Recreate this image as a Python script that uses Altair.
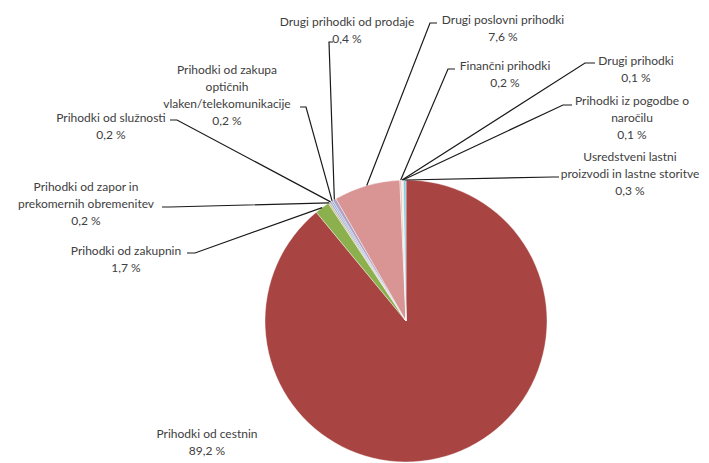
import math
import altair as alt
import pandas as pd

# ---- data -------------------------------------------------------------
categories = [
    "Prihodki od cestnin",
    "Prihodki od zakupnin",
    "Prihodki od zapor in prekomernih obremenitev",
    "Prihodki od služnosti",
    "Prihodki od zakupa optičnih vlaken/telekomunikacije",
    "Drugi prihodki od prodaje",
    "Drugi poslovni prihodki",
    "Finančni prihodki",
    "Drugi prihodki",
    "Prihodki iz pogodbe o naročilu",
    "Usredstveni lastni proizvodi in lastne storitve",
]
values = [89.2, 1.7, 0.2, 0.2, 0.2, 0.4, 7.6, 0.2, 0.1, 0.1, 0.3]
label_lines = [
    ["Prihodki od cestnin"],
    ["Prihodki od zakupnin"],
    ["Prihodki od zapor in", "prekomernih obremenitev"],
    ["Prihodki od služnosti"],
    ["Prihodki od zakupa", "optičnih", "vlaken/telekomunikacije"],
    ["Drugi prihodki od prodaje"],
    ["Drugi poslovni prihodki"],
    ["Finančni prihodki"],
    ["Drugi prihodki"],
    ["Prihodki iz pogodbe o", "naročilu"],
    ["Usredstveni lastni", "proizvodi in lastne storitve"],
]

# ---- styles / layout (pixel positions of page) --------------------------
colors = ["#A84442", "#8DB04F", "#C9BD98", "#A6A6C8", "#95B3D7", "#B3A2C7",
          "#D99593", "#E6B9B8", "#F2DCDB", "#D7E4BD", "#92CDDD"]
pie_cx, pie_cy, pie_r = 406, 321, 141
label_x = [207, 126, 86, 111, 227, 347, 503, 505, 636, 632, 630]
label_y = [434, 251, 187, 118, 70, 22, 20, 66, 61, 101, 157]
line_h = 17
elbow = [None, (195, 253), (170, 207), (177, 120), (306, 107), (329, 42),
         (430, 23), (448, 69), (585, 63), (563, 105), (553, 177)]
stub = [None, (187, 253), (162, 207), (170, 120), (300, 107), (333, 42),
        (437, 23), (455, 69), (595, 63), (572, 105), (559, 177)]

def fmt(v):
    return f"{v:.1f}".replace(".", ",") + " %"

pie_df = pd.DataFrame({"category": categories, "value": values,
                       "order": list(range(len(values)))})

total = sum(values)
text_rows, line_rows = [], []
cum = 0.0
for i, (cat, v) in enumerate(zip(categories, values)):
    lines = label_lines[i] + [fmt(v)]
    for j, t in enumerate(lines):
        text_rows.append({"x": label_x[i], "y": label_y[i] + j * line_h, "text": t})
    mid = (cum + v / 2) / total * 2 * math.pi
    cum += v
    if elbow[i] is None:
        continue
    ex = pie_cx + pie_r * math.sin(mid)
    ey = pie_cy - pie_r * math.cos(mid)
    for k, (px, py) in enumerate([(ex, ey), elbow[i], stub[i]]):
        line_rows.append({"category": cat, "seq": k, "x": px, "y": py})

text_df = pd.DataFrame(text_rows)
line_df = pd.DataFrame(line_rows)

W, H = 693, 460
xs = alt.Scale(domain=[8, 8 + W], nice=False, zero=False)
ys = alt.Scale(domain=[8, 8 + H], nice=False, zero=False, reverse=True)

pie = alt.Chart(pie_df).mark_arc(outerRadius=pie_r, stroke="#ffffff", strokeWidth=0.4).encode(
    theta=alt.Theta("value:Q", stack=True),
    order=alt.Order("order:Q"),
    color=alt.Color("category:N", scale=alt.Scale(domain=categories, range=colors), legend=None),
    x=alt.value(pie_cx - 8),
    y=alt.value(pie_cy - 8),
)

leaders = alt.Chart(line_df).mark_line(color="#1a1a1a", strokeWidth=1.2).encode(
    x=alt.X("x:Q", scale=xs, axis=None),
    y=alt.Y("y:Q", scale=ys, axis=None),
    detail="category:N",
    order="seq:Q",
)

labels = alt.Chart(text_df).mark_text(
    font="Lato", fontSize=12, color="#404040", align="center", baseline="middle"
).encode(
    x=alt.X("x:Q", scale=xs, axis=None),
    y=alt.Y("y:Q", scale=ys, axis=None),
    text="text:N",
)

chart = alt.layer(pie, leaders, labels).properties(
    width=W, height=H, padding=0, autosize="none"
).configure_view(stroke=None)

chart.save("out.html", embed_options={"renderer": "svg", "actions": False})
